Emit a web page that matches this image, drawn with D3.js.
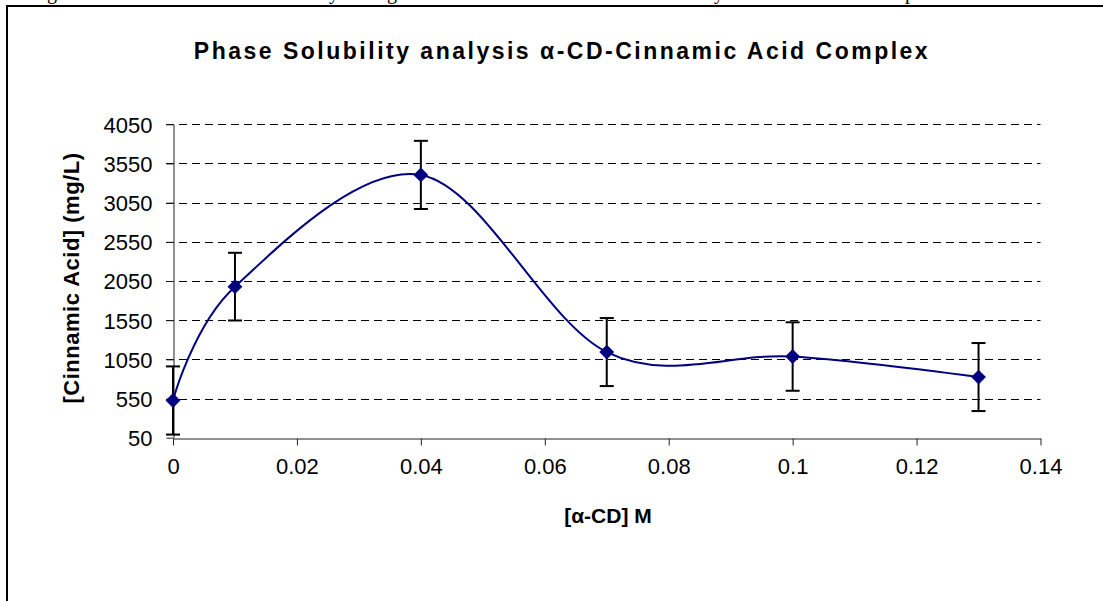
<!DOCTYPE html>
<html>
<head>
<meta charset="utf-8">
<script src="https://cdn.jsdelivr.net/npm/d3@7"></script>
<style>
  html, body { margin: 0; padding: 0; background: #fff; }
  svg { display: block; }
  text { font-family: "Liberation Sans", Arial, sans-serif; fill: #000; }
</style>
</head>
<body>
<svg id="chart" width="1103" height="601"></svg>
<script>
// ---- data ----
const concentrations = [0, 0.01, 0.04, 0.07, 0.1, 0.13];          // [α-CD] M
const cinnamicAcid = [525, 1978, 3404, 1143, 1086, 824];           // mg/L
const errorValues = [435, 432, 435, 434, 437, 434];                // ± mg/L
const xTicks = [0, 0.02, 0.04, 0.06, 0.08, 0.1, 0.12, 0.14];
const yTicks = [50, 550, 1050, 1550, 2050, 2550, 3050, 3550, 4050];
const titleText = "Phase Solubility analysis α-CD-Cinnamic Acid Complex";
const xTitle = "[α-CD] M";
const yTitle = "[Cinnamic Acid] (mg/L)";
const topFragments = [{t: "g", x: 47}, {t: "y", x: 329}, {t: "g", x: 387}, {t: "y", x: 714}, {t: "p", x: 905}];

const svg = d3.select("#chart");

// cropped document text above the chart frame
svg.selectAll("text.frag").data(topFragments).enter().append("text")
  .attr("class", "frag")
  .attr("x", d => d.x).attr("y", -1)
  .style("font-family", "'Liberation Serif', 'Times New Roman', serif")
  .style("font-size", "20px")
  .text(d => d.t);

// chart frame
svg.append("rect")
  .attr("x", 7).attr("y", 6).attr("width", 1200).attr("height", 700)
  .attr("fill", "none").attr("stroke", "#000").attr("stroke-width", 2);

const x = d3.scaleLinear().domain([0, 0.14]).range([173, 1040.5]);
const y = d3.scaleLinear().domain([50, 4050]).range([437.7, 124.3]);

// gridlines
svg.append("g").selectAll("line").data(yTicks.slice(1)).enter().append("line")
  .attr("x1", x(0) - 7).attr("x2", x(0.14))
  .attr("y1", d => Math.round(y(d)) + 0.5).attr("y2", d => Math.round(y(d)) + 0.5)
  .attr("stroke", "#000").attr("stroke-width", 1)
  .attr("stroke-dasharray", "8,5");

// axes
const xAxis = d3.axisBottom(x).tickValues(xTicks).tickSize(7).tickSizeOuter(0)
  .tickFormat(d => d3.format("")(+d.toFixed(2)));
const gx = svg.append("g").attr("transform", `translate(0,${Math.round(y(50)) + 0.5})`).call(xAxis);
gx.select(".domain").attr("stroke", "#222");
gx.selectAll(".tick line").attr("stroke", "#222");
gx.selectAll(".tick text")
  .attr("y", 35).attr("dy", 0)
  .style("font-family", "'Liberation Sans', Arial, sans-serif")
  .style("font-size", "22px").attr("fill", "#000");

const yAxis = d3.axisLeft(y).tickValues(yTicks).tickSize(7).tickSizeOuter(0)
  .tickFormat(d3.format("d"));
const gy = svg.append("g").attr("transform", `translate(${Math.round(x(0)) + 0.5},0)`).call(yAxis);
gy.select(".domain").attr("stroke", "#222");
gy.selectAll(".tick line").attr("stroke", "#222");
gy.selectAll(".tick text")
  .attr("x", -21).attr("dy", "0.36em")
  .style("font-family", "'Liberation Sans', Arial, sans-serif")
  .style("font-size", "22px").attr("fill", "#000");

// titles
svg.append("text")
  .attr("x", 562).attr("y", 58.5)
  .attr("text-anchor", "middle")
  .style("font-weight", "bold").style("font-size", "23px")
  .style("letter-spacing", "2.5px")
  .text(titleText);

svg.append("text")
  .attr("x", 608).attr("y", 522.5)
  .attr("text-anchor", "middle")
  .style("font-weight", "bold").style("font-size", "21px")
  .text(xTitle);

svg.append("text")
  .attr("transform", "translate(79,278) rotate(-90)")
  .attr("text-anchor", "middle")
  .style("font-weight", "bold").style("font-size", "22px")
  .style("letter-spacing", "0.5px")
  .text(yTitle);

const pts = concentrations.map((c, i) => ({x: c, y: cinnamicAcid[i], e: errorValues[i]}));

// smoothed series line
const line = d3.line().x(d => x(d.x)).y(d => y(d.y)).curve(d3.curveCardinal.tension(0));
svg.append("path").datum(pts)
  .attr("d", line)
  .attr("fill", "none").attr("stroke", "#000080").attr("stroke-width", 2);

// error bars
const eb = svg.append("g").attr("stroke", "#000").attr("stroke-width", 2);
pts.forEach(d => {
  const cx = x(d.x), top = y(d.y + d.e), bot = y(d.y - d.e);
  eb.append("line").attr("x1", cx).attr("x2", cx).attr("y1", top).attr("y2", bot);
  eb.append("line").attr("x1", cx - 7).attr("x2", cx + 7).attr("y1", top).attr("y2", top);
  eb.append("line").attr("x1", cx - 7).attr("x2", cx + 7).attr("y1", bot).attr("y2", bot);
});

// diamond markers
const diamond = d3.symbol().type(d3.symbolSquare).size(90);
svg.append("g").selectAll("path").data(pts).enter().append("path")
  .attr("d", diamond)
  .attr("transform", d => `translate(${x(d.x)},${y(d.y)}) rotate(45)`)
  .attr("fill", "#000080").attr("stroke", "#000080").attr("stroke-width", 1);
</script>
</body>
</html>
